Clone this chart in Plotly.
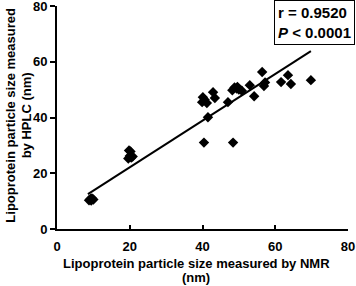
import plotly.graph_objects as go

# NMR (x) vs HPLC (y) particle sizes, nm
nmr = [8.8, 9.2, 9.6, 10.0, 9.4,
       19.6, 20.0, 20.2, 19.8, 20.4, 20.8,
       40.4, 48.4, 41.5,
       40.1, 39.9, 41.2, 42.9, 43.4, 40.6,
       47.0, 48.2, 48.8, 49.4, 50.0, 50.8, 49.6,
       53.0, 54.2, 56.4, 56.9, 57.2, 61.6, 63.5, 64.3, 69.8]
hplc = [10.3, 10.8, 11.0, 10.6, 10.2,
        25.3, 26.2, 27.8, 28.2, 25.6, 26.0,
        31.0, 31.0, 40.1,
        47.3, 45.5, 45.2, 49.1, 47.0, 46.4,
        45.5, 49.8, 50.8, 50.4, 50.0, 49.6, 51.0,
        51.6, 47.6, 56.3, 51.3, 52.6, 52.7, 55.2, 52.0, 53.4]

fit_slope = 0.837
fit_intercept = 5.4
fit_x = [8.5, 69.8]
fit_y = [fit_intercept + fit_slope * v for v in fit_x]

x_ticks = [0, 20, 40, 60, 80]
y_ticks = [0, 20, 40, 60, 80]

stats_text = "r = 0.9520<br><i>P</i> < 0.0001"
x_title_lines = ["Lipoprotein particle size measured by NMR", "(nm)"]
y_title = "Lipoprotein particle size measured<br>by HPLC (nm)"

font_family = "Liberation Sans, Arial, sans-serif"

fig = go.Figure()
fig.add_trace(go.Scatter(x=fit_x, y=fit_y, mode="lines",
                         line=dict(color="black", width=2), hoverinfo="skip"))
fig.add_trace(go.Scatter(x=nmr, y=hplc, mode="markers",
                         marker=dict(symbol="diamond", size=8, color="black")))

annotations = [
    dict(text="<b>" + x_title_lines[0] + "</b>", xref="paper", yref="paper",
         x=0.479, y=-0.1525, xanchor="center", yanchor="middle", showarrow=False,
         font=dict(size=13)),
    dict(text="<b>" + x_title_lines[1] + "</b>", xref="paper", yref="paper",
         x=0.479, y=-0.2197, xanchor="center", yanchor="middle", showarrow=False,
         font=dict(size=13)),
    dict(text="<b>" + y_title + "</b>", xref="paper", yref="paper",
         x=-0.132, y=0.511, xanchor="center", yanchor="middle", showarrow=False,
         textangle=-90, font=dict(size=13), align="center"),
    dict(text="<b>" + stats_text + "</b>", xref="paper", yref="paper",
         x=1.024, y=1.027, xanchor="right", yanchor="top", showarrow=False,
         font=dict(size=15), align="left", bordercolor="black", borderwidth=1,
         borderpad=3, bgcolor="white"),
]

fig.update_layout(
    width=356, height=286,
    margin=dict(l=57, r=8, t=6, b=57, autoexpand=False),
    plot_bgcolor="white", paper_bgcolor="white",
    showlegend=False,
    font=dict(family=font_family, size=13, color="black"),
    xaxis=dict(range=[0, 80], tickvals=x_ticks,
               ticktext=["<b>%d</b>" % v for v in x_ticks],
               ticks="inside", ticklen=4, automargin=False,
               ticklabelstandoff=4, ticklabeloverflow="allow",
               tickwidth=1.5, tickcolor="black",
               showline=True, linecolor="black", linewidth=2,
               showgrid=False, zeroline=False,
               tickfont=dict(family=font_family, size=13, color="black")),
    yaxis=dict(range=[0, 80], tickvals=y_ticks,
               ticktext=["<b>%d</b>" % v for v in y_ticks],
               ticks="outside", ticklen=5, automargin=False,
               ticklabeloverflow="allow",
               tickwidth=1.5, tickcolor="black",
               showline=True, linecolor="black", linewidth=2,
               showgrid=False, zeroline=False,
               tickfont=dict(family=font_family, size=13, color="black")),
    annotations=annotations,
)

fig.write_html("out.html", config={"displayModeBar": False},
               post_script="document.body.style.margin='0';document.body.style.overflow='hidden';")
